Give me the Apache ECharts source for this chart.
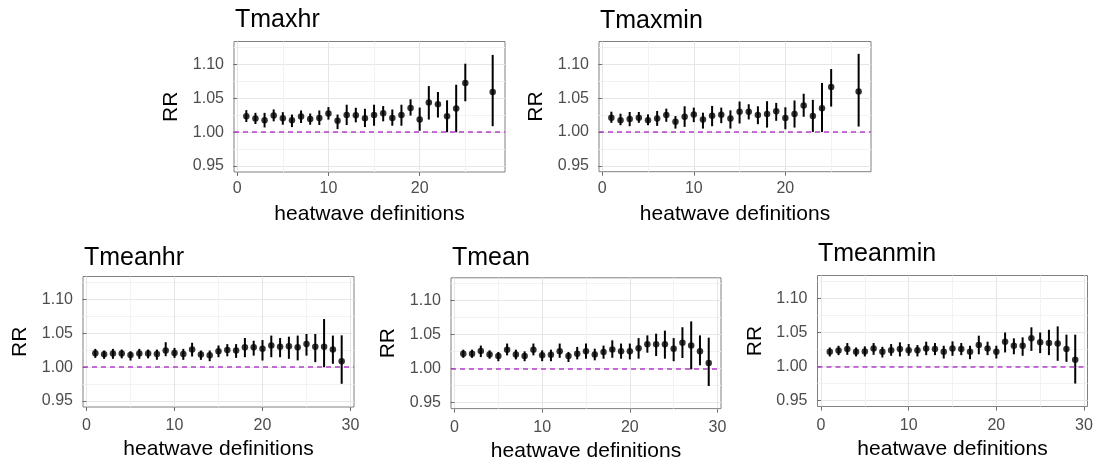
<!DOCTYPE html>
<html><head><meta charset="utf-8">
<script src="https://cdn.jsdelivr.net/npm/echarts@6/dist/echarts.min.js"></script>
<style>html,body{margin:0;padding:0;background:#fff}#c{width:1096px;height:464px}</style>
</head><body><div id="c"></div>
<script>
// ---------------- data ----------------
const defs = [1,2,3,4,5,6,7,8,9,10,11,12,13,14,15,16,17,18,19,20,21,22,23,24,25,26,27,28,29];
const panelNames = ['Tmaxhr','Tmaxmin','Tmeanhr','Tmean','Tmeanmin'];
const yTickValues = [0.95,1.00,1.05,1.10];
const yMinorValues = [0.975,1.025,1.075,1.125];
const xTickTop = [0,10,20];
const xTickBottom = [0,10,20,30];
const xMinorValues = [5,15,25];
const refValue = 1.00;
const xTitle = 'heatwave definitions';
const yTitle = 'RR';

const tmaxhrEst = [1.0235,1.020,1.0175,1.0245,1.0205,1.0175,1.023,1.0195,1.021,1.0275,1.017,1.0255,1.025,1.0205,1.0255,1.028,1.021,1.0255,1.0355,1.0186,1.0436,1.0412,1.0235,1.0348,1.0725,null,null,1.0593];
const tmaxhrLo  = [1.015,1.012,1.007,1.016,1.011,1.0075,1.0135,1.011,1.0105,1.0185,1.0045,1.0105,1.0145,1.0075,1.0095,1.016,1.0095,1.0095,1.0245,1.002,1.0186,1.0216,1.000,1.000,1.0456,null,null,1.0088];
const tmaxhrHi  = [1.0325,1.0285,1.0285,1.0335,1.0295,1.026,1.032,1.0275,1.032,1.037,1.026,1.0405,1.036,1.0345,1.0405,1.0385,1.0335,1.0405,1.0485,1.0363,1.068,1.0593,1.047,1.070,1.101,null,null,1.114];

const tmaxminEst = [1.021,1.0175,1.019,1.021,1.0175,1.020,1.025,1.015,1.0225,1.026,1.0185,1.024,1.0255,1.020,1.030,1.030,1.025,1.0265,1.0305,1.0205,1.0265,1.039,1.0235,1.035,1.0665,null,null,1.060];
const tmaxminLo  = [1.0135,1.010,1.0085,1.0135,1.010,1.009,1.015,1.005,1.0075,1.0145,1.005,1.0085,1.013,1.005,1.0125,1.0185,1.0115,1.0065,1.0165,1.004,1.0065,1.0225,1.000,1.000,1.0375,null,null,1.008];
const tmaxminHi  = [1.030,1.027,1.0295,1.0295,1.026,1.031,1.0345,1.0235,1.038,1.036,1.0285,1.0385,1.036,1.032,1.045,1.041,1.038,1.0455,1.043,1.0365,1.0465,1.0565,1.0475,1.0725,1.093,null,null,1.1155];

const tmeanhrEst = [1.0206,1.019,1.020,1.020,1.018,1.020,1.020,1.0196,1.0245,1.021,1.0196,1.026,1.0186,1.0176,1.0235,1.0255,1.0245,1.0294,1.0294,1.027,1.032,1.030,1.031,1.0294,1.0343,1.030,1.030,1.026,1.0088];
const tmeanhrLo  = [1.0137,1.0123,1.0123,1.013,1.0098,1.0123,1.013,1.011,1.0162,1.0137,1.0108,1.0157,1.0108,1.0088,1.0147,1.016,1.0137,1.0147,1.017,1.0098,1.0147,1.0147,1.0123,1.010,1.017,1.0074,1.000,1.005,0.9755];
const tmeanhrHi  = [1.027,1.0245,1.027,1.026,1.0235,1.027,1.026,1.026,1.0368,1.0284,1.027,1.036,1.0245,1.0245,1.032,1.034,1.034,1.043,1.039,1.040,1.0466,1.043,1.045,1.0466,1.049,1.049,1.071,1.0466,1.047];

const tmeanEst = [1.022,1.022,1.026,1.021,1.0186,1.028,1.021,1.0186,1.028,1.0196,1.0206,1.0255,1.0186,1.022,1.0255,1.021,1.0245,1.0284,1.0255,1.0255,1.030,1.036,1.036,1.036,1.0294,1.038,1.034,1.0255,1.0083];
const tmeanLo  = [1.016,1.016,1.017,1.0147,1.011,1.0196,1.0137,1.011,1.0196,1.011,1.011,1.016,1.0098,1.0137,1.0147,1.0123,1.0147,1.016,1.0147,1.0137,1.0147,1.0235,1.0186,1.0147,1.011,1.0157,0.999,1.005,0.9745];
const tmeanHi  = [1.028,1.028,1.034,1.027,1.0245,1.037,1.028,1.0255,1.037,1.027,1.028,1.037,1.0245,1.032,1.037,1.0294,1.034,1.0417,1.037,1.037,1.045,1.049,1.0515,1.056,1.045,1.061,1.0696,1.049,1.0456];

const tmeanminEst = [1.0217,1.0236,1.0256,1.0217,1.022,1.0266,1.0217,1.024,1.0256,1.024,1.024,1.0266,1.0256,1.0217,1.0266,1.0256,1.0217,1.0315,1.0266,1.0217,1.0365,1.0305,1.0305,1.0414,1.0355,1.0345,1.034,1.0256,1.0099];
const tmeanminLo  = [1.0148,1.0167,1.0172,1.0148,1.0148,1.0172,1.0133,1.0158,1.0148,1.0158,1.0148,1.0167,1.0167,1.0118,1.0158,1.0167,1.0108,1.018,1.0167,1.0118,1.0207,1.018,1.0158,1.023,1.0197,1.0167,1.0084,1.0069,0.975];
const tmeanminHi  = [1.028,1.0305,1.0345,1.028,1.0296,1.0345,1.029,1.033,1.0355,1.033,1.0315,1.0365,1.0345,1.0305,1.037,1.0345,1.0305,1.0453,1.0365,1.0305,1.050,1.0414,1.0429,1.0576,1.050,1.054,1.059,1.0468,1.0468];

// ---------------- layout ----------------
const FONT = "'Liberation Sans', Arial, sans-serif";
const panels = [
  {name: panelNames[0], est: tmaxhrEst, lo: tmaxhrLo, hi: tmaxhrHi, grid:{left:234,top:41.5,width:271,height:130.5}, xr:[-0.35,29.35], xt:xTickTop, lm:9, title:{left:235,top:7.5}},
  {name: panelNames[1], est: tmaxminEst, lo: tmaxminLo, hi: tmaxminHi, grid:{left:599,top:41.5,width:272,height:130.2}, xr:[-0.35,29.35], xt:xTickTop, lm:9, title:{left:600,top:8.5}},
  {name: panelNames[2], est: tmeanhrEst, lo: tmeanhrLo, hi: tmeanhrHi, grid:{left:83,top:276.5,width:271,height:130.5}, xr:[-0.4,30.4], xt:xTickBottom, lm:11, title:{left:84,top:245.5}},
  {name: panelNames[3], est: tmeanEst, lo: tmeanLo, hi: tmeanHi, grid:{left:451,top:277.8,width:270,height:130.8}, xr:[-0.4,30.4], xt:xTickBottom, lm:11, title:{left:452,top:246}},
  {name: panelNames[4], est: tmeanminEst, lo: tmeanminLo, hi: tmeanminHi, grid:{left:817.5,top:275.5,width:270,height:131}, xr:[-0.4,30.4], xt:xTickBottom, lm:11, title:{left:818,top:241.5}}
];
const Y_MIN = 0.94125, Y_MAX = 1.13375;

const grids = [], xAxes = [], yAxes = [], series = [], titles = [];
panels.forEach((p, i) => {
  grids.push(Object.assign({show:true, borderColor:'#808080', borderWidth:1, backgroundColor:'#fff', containLabel:false}, p.grid));
  titles.push({text:p.name, left:p.title.left, top:p.title.top, padding:0,
    textStyle:{fontSize:25, fontWeight:'normal', color:'#000', fontFamily:FONT}});
  xAxes.push({type:'value', gridIndex:i, min:p.xr[0], max:p.xr[1], position:'bottom',
    axisLine:{show:false},
    axisTick:{show:true, inside:false, length:4, customValues:p.xt, lineStyle:{color:'#6f6f6f', width:1}},
    axisLabel:{show:true, customValues:p.xt, margin:p.lm, fontSize:16, color:'#4d4d4d', fontFamily:FONT},
    splitLine:{show:true, lineStyle:{color:'#e6e6e6', width:1}},
    name:xTitle, nameLocation:'middle', nameGap:32,
    nameTextStyle:{fontSize:21, color:'#000', fontFamily:FONT}
  });
  xAxes.push({type:'value', gridIndex:i, min:p.xr[0], max:p.xr[1], position:'bottom',
    axisLine:{show:false}, axisTick:{show:false, customValues:xMinorValues},
    axisLabel:{show:false, customValues:xMinorValues},
    splitLine:{show:true, lineStyle:{color:'#f2f2f2', width:1}}
  });
  yAxes.push({type:'value', gridIndex:i, min:Y_MIN, max:Y_MAX, position:'left',
    axisLine:{show:false},
    axisTick:{show:true, inside:false, length:4, customValues:yTickValues, lineStyle:{color:'#6f6f6f', width:1}},
    axisLabel:{show:true, customValues:yTickValues, margin:10, fontSize:16, color:'#4d4d4d', fontFamily:FONT,
      formatter:v => Number(v).toFixed(2)},
    splitLine:{show:true, lineStyle:{color:'#e6e6e6', width:1}},
    name:yTitle, nameLocation:'middle', nameGap:52, nameRotate:90,
    nameTextStyle:{fontSize:21, color:'#000', fontFamily:FONT}
  });
  yAxes.push({type:'value', gridIndex:i, min:Y_MIN, max:Y_MAX, position:'left',
    axisLine:{show:false}, axisTick:{show:false, customValues:yMinorValues},
    axisLabel:{show:false, customValues:yMinorValues},
    splitLine:{show:true, lineStyle:{color:'#f2f2f2', width:1}}
  });
  const xi = i*2, yi = i*2;
  const barData = [], ptData = [];
  defs.forEach((d, k) => {
    if (k < p.est.length && p.est[k] != null) {
      barData.push([d, p.lo[k], p.hi[k]]);
      ptData.push([d, p.est[k]]);
    }
  });
  series.push({type:'custom', xAxisIndex:xi, yAxisIndex:yi, data:barData, silent:true,
    encode:{x:0, y:[1,2]},
    renderItem:(params, api) => {
      const x = api.value(0);
      const a = api.coord([x, api.value(1)]);
      const b = api.coord([x, api.value(2)]);
      return {type:'line', shape:{x1:a[0], y1:a[1], x2:b[0], y2:b[1]},
        style:{stroke:'#000', lineWidth:2}};
    },
    markLine:{silent:true, symbol:'none', label:{show:false},
      lineStyle:{color:'#b040c8', type:[5,4], width:1.5},
      data:[{yAxis:refValue}]}
  });
  series.push({type:'scatter', xAxisIndex:xi, yAxisIndex:yi, data:ptData, silent:true,
    symbol:'circle', symbolSize:6.5, itemStyle:{color:'#000'}});
});

const chart = echarts.init(document.getElementById('c'), null, {renderer:'canvas'});
chart.setOption({
  animation:false,
  backgroundColor:'#fff',
  textStyle:{fontFamily:FONT},
  title:titles, grid:grids, xAxis:xAxes, yAxis:yAxes, series:series
});
</script>
</body></html>
